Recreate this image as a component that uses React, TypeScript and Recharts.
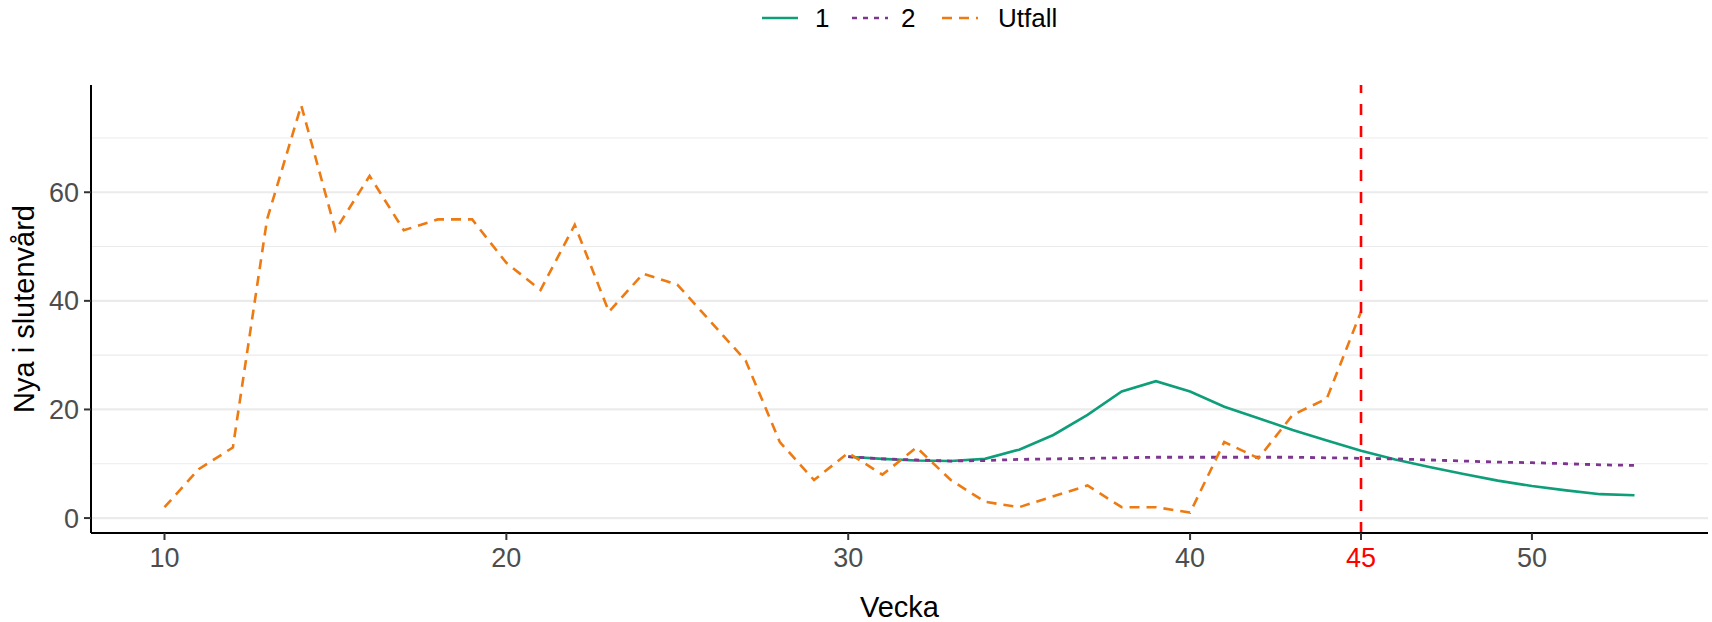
import React from 'react';
import { LineChart, Line, XAxis, YAxis, CartesianGrid, ReferenceLine, Label } from 'recharts';

if (typeof document !== 'undefined') document.body.style.margin = '0';

// veckor 10–53
const weeks = [10, 11, 12, 13, 14, 15, 16, 17, 18, 19, 20, 21, 22, 23, 24, 25, 26, 27, 28, 29, 30, 31,
  32, 33, 34, 35, 36, 37, 38, 39, 40, 41, 42, 43, 44, 45, 46, 47, 48, 49, 50, 51, 52, 53];

// Utfall, vecka 10–45
const utfallWeeks = [10, 11, 12, 13, 14, 15, 16, 17, 18, 19, 20, 21, 22, 23, 24, 25, 26, 27, 28, 29, 30, 31,
  32, 33, 34, 35, 36, 37, 38, 39, 40, 41, 42, 43, 44, 45];
const utfall = [2, 9, 13, 55, 76, 53, 63, 53, 55, 55, 47, 42, 54, 38, 45, 43, 36, 29, 14, 7, 12, 8,
  13, 7, 3, 2, 4, 6, 2, 2, 1, 14, 11, 19, 22, 38];

// scenarier, vecka 30–53
const scenWeeks = [30, 31, 32, 33, 34, 35, 36, 37, 38, 39, 40, 41, 42, 43, 44, 45, 46, 47, 48, 49, 50, 51, 52, 53];
const scen1 = [11.3, 10.9, 10.6, 10.5, 10.9, 12.6, 15.3, 19.0, 23.3, 25.2, 23.3, 20.5, 18.4, 16.2,
  14.3, 12.4, 10.8, 9.4, 8.1, 6.9, 5.9, 5.1, 4.4, 4.2];
const scen2 = [11.3, 10.9, 10.7, 10.5, 10.6, 10.8, 10.9, 11.0, 11.1, 11.2, 11.2, 11.2, 11.2, 11.2,
  11.1, 11.0, 10.9, 10.7, 10.5, 10.3, 10.2, 10.0, 9.8, 9.7];

const xTicks = [10, 20, 30, 40, 45, 50];
const yTicks = [0, 20, 40, 60];
const yMinor = [10, 30, 50, 70];
const markWeek = 45;

const data = weeks.map((w) => {
  const u = utfallWeeks.indexOf(w);
  const s = scenWeeks.indexOf(w);
  return {
    week: w,
    utfall: u >= 0 ? utfall[u] : null,
    s1: s >= 0 ? scen1[s] : null,
    s2: s >= 0 ? scen2[s] : null,
  };
});

const GREEN = '#0E9E7A';
const PURPLE = '#7D3590';
const ORANGE = '#EE7A12';
const FONT = '"Liberation Sans", Arial, Helvetica, sans-serif';

const WeekTick = (props: any) => {
  const { x, y, payload } = props;
  return (
    <text x={x} y={y} dy="0.71em" textAnchor="middle" fontSize={27} fontFamily={FONT}
      fill={payload.value === markWeek ? '#FF0000' : '#4D4D4D'}>
      {payload.value}
    </text>
  );
};

const legendItems = [
  { label: '1', color: GREEN, dash: undefined, lineX: 762, textX: 815 },
  { label: '2', color: PURPLE, dash: '5 6', lineX: 852, textX: 901 },
  { label: 'Utfall', color: ORANGE, dash: '10 7', lineX: 942, textX: 998 },
];

export default function App() {
  return (
    <div style={{ position: 'relative', width: 1712, height: 622, background: '#fff', fontFamily: FONT }}>
      {legendItems.map((it) => (
        <React.Fragment key={it.label}>
          <svg style={{ position: 'absolute', left: it.lineX, top: 12 }} width={36} height={12}>
            <line x1={0} y1={6} x2={36} y2={6} stroke={it.color} strokeWidth={2.6} strokeDasharray={it.dash} />
          </svg>
          <span style={{ position: 'absolute', left: it.textX, top: 3, fontSize: 26, lineHeight: '30px', color: '#000' }}>
            {it.label}
          </span>
        </React.Fragment>
      ))}
      <LineChart width={1712} height={622} data={data} margin={{ top: 85, right: 4, bottom: 0, left: 0 }}
        style={{ fontFamily: FONT }}>
        <CartesianGrid vertical={false} horizontalValues={yMinor} stroke="#EBEBEB" strokeWidth={1.1} />
        <CartesianGrid vertical={false} horizontalValues={yTicks} stroke="#EBEBEB" strokeWidth={2.2} />
        <XAxis dataKey="week" type="number" domain={[7.85, 55.15]} ticks={xTicks} allowDataOverflow
          height={89} tickSize={7} tickMargin={8} tick={<WeekTick />}
          axisLine={{ stroke: '#000', strokeWidth: 2 }} tickLine={{ stroke: '#333', strokeWidth: 2 }}>
          <Label value="Vecka" position="insideBottom" offset={5} fontSize={29} fill="#000" />
        </XAxis>
        <YAxis type="number" domain={[-2.75, 79.75]} ticks={yTicks} allowDataOverflow width={91}
          tickSize={7} tickMargin={5} tick={{ fill: '#4D4D4D', fontSize: 27 }}
          axisLine={{ stroke: '#000', strokeWidth: 2 }} tickLine={{ stroke: '#333', strokeWidth: 2 }}>
          <Label
            content={({ viewBox }: any) => {
              const cx = viewBox.x + 24;
              const cy = viewBox.y + viewBox.height / 2;
              return (
                <text x={cx} y={cy} transform={`rotate(-90, ${cx}, ${cy})`} textAnchor="middle"
                  dominantBaseline="central" fontSize={29} fill="#000" fontFamily={FONT}>
                  Nya i slutenvård
                </text>
              );
            }}
          />
        </YAxis>
        <Line dataKey="s1" type="linear" stroke={GREEN} strokeWidth={2.6} dot={false} isAnimationActive={false} />
        <Line dataKey="s2" type="linear" stroke={PURPLE} strokeWidth={2.8} strokeDasharray="5 6" dot={false}
          isAnimationActive={false} />
        <Line dataKey="utfall" type="linear" stroke={ORANGE} strokeWidth={2.6} strokeDasharray="10 7" dot={false}
          isAnimationActive={false} />
        <ReferenceLine x={markWeek} stroke="#FF0000" strokeWidth={2.6} strokeDasharray="11 11" />
      </LineChart>
    </div>
  );
}
